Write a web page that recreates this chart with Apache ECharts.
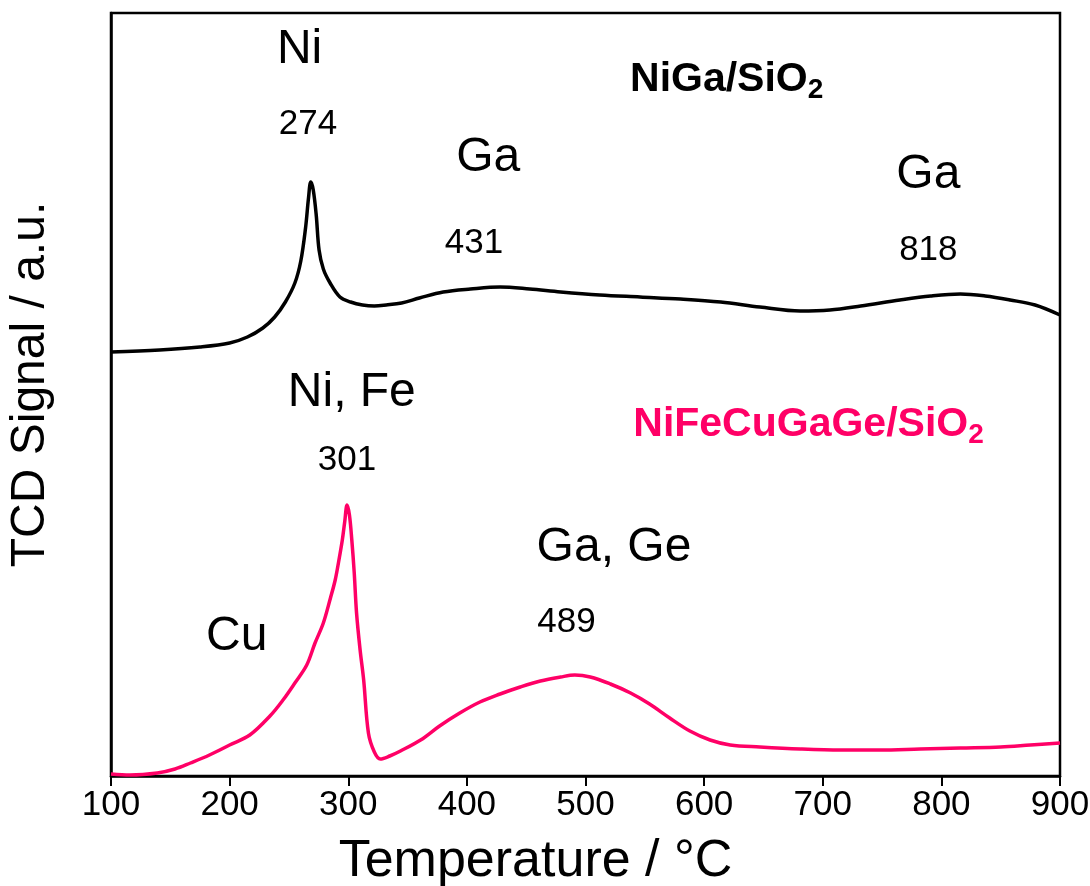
<!DOCTYPE html>
<html>
<head>
<meta charset="utf-8">
<script src="https://cdn.jsdelivr.net/npm/echarts@6/dist/echarts.min.js"></script>
<style>
html,body{margin:0;padding:0;background:#fff;}
#chart{width:1090px;height:886px;}
</style>
</head>
<body>
<div id="chart"></div>
<script>
// Temperature (°C) and TCD signal (a.u.)
const xTicks = [100, 200, 300, 400, 500, 600, 700, 800, 900];

const niGaT = [100,141,175,200,215,228,238,247,255,260,264,266.5,268.4,270.5,273,275.4,279,284.7,293,302,312,322,332,345,360,380,403,428,453,479,512,546,580,614,647,681,706,732,765,791,816,837,858,879,900];
const niGaS = [424,426,429,433,439,448,459,474,493,515,548,578,594,586,561,526,507,493,479,474,471,470,471,473,478,484,487,489,487,484,481,479,477,474,469,465,466,470,476,480,482,480,476,471,461];

const multiT = [100,116,139,154,167,183,200,217,234,245,255,265,272,279,285,289,292,295,297,299,301,303,305,307,310,313,317,322,327,335,344,361,377,394,411,428,445,462,479,491,504,521,538,554,571,588,605,622,647,681,715,748,782,816,850,875,900];
const multiS = [2,1,3,7,13,21,31,41,60,76,93,111,133,153,178,196,215,236,254,271,261,236,204,163,126,96,43,24,17,20,25,36,50,63,74,82,89,95,99,101,99,92,83,72,58,45,36,31,29,27,26,26,27,28,29,31,33];

// annotations placed in data coordinates
const annoT = [259, 266, 418, 406, 789, 789, 303, 299, 206, 524, 484];
const annoS = [726, 652, 618, 533, 601, 526, 383, 316, 139, 228, 154];
const annoText = ['Ni', '274', 'Ga', '431', 'Ga', '818', 'Ni, Fe', '301', 'Cu', 'Ga, Ge', '489'];
const annoKind = ['name','num','name','num','name','num','name','num','name','name','num'];

const sampleNames = ['NiGa/SiO', 'NiFeCuGaGe/SiO'];
const sampleT = [619, 688];
const sampleS = [696, 351];
const sampleColors = ['#000000', '#ff0066'];

const FONT = '"Liberation Sans", Arial, sans-serif';

const chart = echarts.init(document.getElementById('chart'));
chart.setOption({
  animation: false,
  backgroundColor: '#fff',
  grid: {left: 111, right: 30, top: 13, bottom: 110, containLabel: false, outerBoundsMode: 'none',
    show: true, borderColor: '#000', borderWidth: 2.5, backgroundColor: 'transparent'},
  xAxis: {
    type: 'value', min: 100, max: 900, interval: 100,
    name: 'Temperature / °C', nameLocation: 'middle', nameGap: 60,
    nameTextStyle: {fontFamily: FONT, fontSize: 52, color: '#000', padding: [0, 100, 0, 0]},
    axisLine: {show: true, lineStyle: {color: '#000', width: 2.5}},
    axisTick: {show: true, inside: false, length: 10, lineStyle: {color: '#000', width: 2}},
    axisLabel: {fontFamily: FONT, fontSize: 35, color: '#000', margin: 12, align: 'center',
      alignMinLabel: 'center', alignMaxLabel: 'center',
      formatter: v => xTicks.includes(v) ? String(v) : ''},
    splitLine: {show: false}
  },
  yAxis: {
    type: 'value', min: 0, max: 763,
    name: 'TCD Signal / a.u.', nameLocation: 'middle', nameGap: 56,
    nameTextStyle: {fontFamily: FONT, fontSize: 48, color: '#000', padding: [0, 0, 0, 20]},
    axisLine: {show: true, lineStyle: {color: '#000', width: 2.5}},
    axisTick: {show: false}, axisLabel: {show: false}, splitLine: {show: false}
  },
  series: [
    {type: 'line', data: niGaT.map((t, i) => [t, niGaS[i]]), showSymbol: false, smooth: 0.35,
     lineStyle: {color: '#000', width: 3.5}},
    {type: 'line', data: multiT.map((t, i) => [t, multiS[i]]), showSymbol: false, smooth: 0.35,
     lineStyle: {color: '#ff0066', width: 3.5}}
  ]
});

const graphics = [];
annoT.forEach((t, i) => {
  const p = chart.convertToPixel({gridIndex: 0}, [t, annoS[i]]);
  graphics.push({type: 'text', x: p[0], y: p[1], silent: true,
    style: {text: annoText[i], fontFamily: FONT, fontSize: annoKind[i] === 'name' ? 48 : 35,
      fill: '#000', align: 'center', verticalAlign: 'middle'}});
});
sampleNames.forEach((n, i) => {
  const p = chart.convertToPixel({gridIndex: 0}, [sampleT[i], sampleS[i]]);
  graphics.push({type: 'text', x: p[0], y: p[1], silent: true,
    style: {text: '{b|' + n + '}{s|2}', align: 'center', verticalAlign: 'middle',
      rich: {
        b: {fontFamily: FONT, fontSize: 41, fontWeight: 'bold', fill: sampleColors[i], lineHeight: 48},
        s: {fontFamily: FONT, fontSize: 28, fontWeight: 'bold', fill: sampleColors[i], lineHeight: 14, verticalAlign: 'bottom'}
      }}});
});
chart.setOption({graphic: graphics});
</script>
</body>
</html>
